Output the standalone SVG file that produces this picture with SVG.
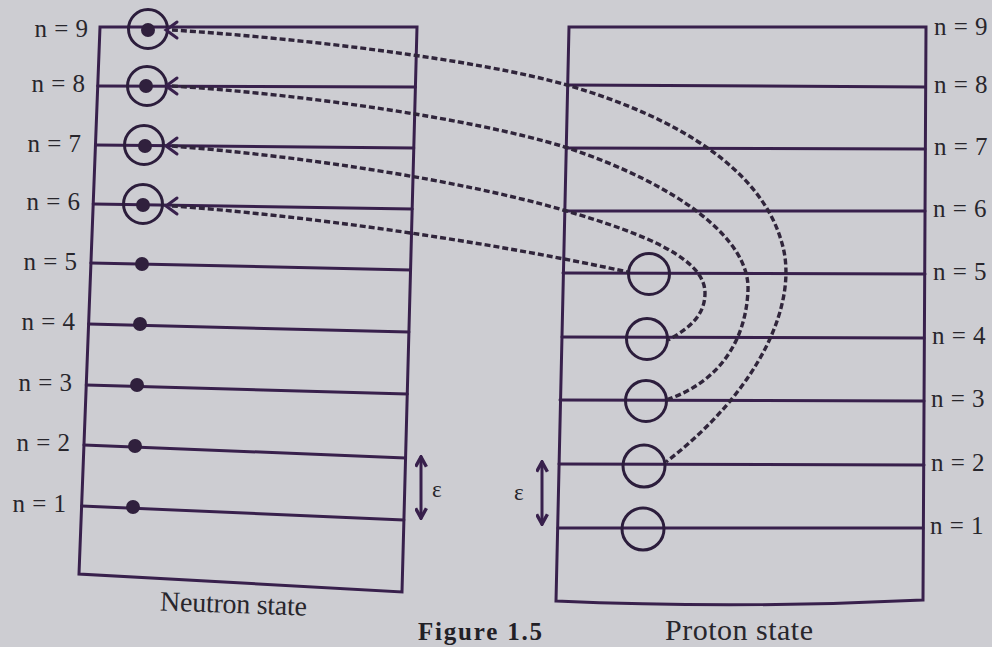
<svg xmlns="http://www.w3.org/2000/svg" width="992" height="647" viewBox="0 0 992 647">
<style>
.ln{fill:none;stroke:#38204c;stroke-width:3;stroke-linecap:round}
.dash{fill:none;stroke:#30253b;stroke-width:3.4;stroke-dasharray:6 3}
.dot{fill:#30203d}
.ring{fill:none;stroke:#2c1d3c;stroke-width:3}
.lbl{font-family:"Liberation Serif",serif;font-size:25px;fill:#28262c;word-spacing:1px}
.cap{font-family:"Liberation Serif",serif;font-size:28px;fill:#28262c}
.eps{font-family:"Liberation Serif",serif;font-size:23px;fill:#28262c}
</style>
<defs>
<marker id="ah" viewBox="0 0 12 12" refX="10" refY="6" markerWidth="13" markerHeight="13" markerUnits="userSpaceOnUse" orient="auto-start-reverse">
<path d="M1,1 L10,6 L1,11" fill="none" stroke="#38204c" stroke-width="3.2"/>
</marker>
</defs>
<rect width="992" height="647" fill="#cdcdd2"/>

<g id="neutron-box">
<path class="ln" d="M100,27 L417,27 L402,592 L79,574 Z"/>
<path class="ln" d="M97.7,86 L415.4,87 M95.5,145 L413.8,148 M93.2,204 L412.2,209 M90.9,263 L410.5,270 M88.6,324 L408.9,332 M86.2,385 L407.3,394 M84,445 L405.6,458 M81.6,506 L403.9,520"/>
<circle class="dot" cx="148" cy="30" r="7"/>
<circle class="dot" cx="146" cy="86" r="7"/>
<circle class="dot" cx="145" cy="146" r="7"/>
<circle class="dot" cx="143" cy="205" r="7"/>
<circle class="dot" cx="142" cy="264" r="7"/>
<circle class="dot" cx="140" cy="324" r="7"/>
<circle class="dot" cx="137" cy="385" r="7"/>
<circle class="dot" cx="135" cy="446" r="7"/>
<circle class="dot" cx="133" cy="507" r="7"/>
<circle class="ring" cx="148" cy="29" r="19.5"/>
<circle class="ring" cx="147" cy="86" r="19.5"/>
<circle class="ring" cx="144" cy="145" r="19.5"/>
<circle class="ring" cx="143" cy="204" r="19.5"/>
<text class="lbl" x="88" y="37" text-anchor="end">n = 9</text>
<text class="lbl" x="85" y="92" text-anchor="end">n = 8</text>
<text class="lbl" x="81" y="152" text-anchor="end">n = 7</text>
<text class="lbl" x="80" y="210" text-anchor="end">n = 6</text>
<text class="lbl" x="77" y="270" text-anchor="end">n = 5</text>
<text class="lbl" x="75" y="330" text-anchor="end">n = 4</text>
<text class="lbl" x="72" y="391" text-anchor="end">n = 3</text>
<text class="lbl" x="70" y="451" text-anchor="end">n = 2</text>
<text class="lbl" x="66" y="512" text-anchor="end">n = 1</text>
<line class="ln" x1="421" y1="457" x2="421" y2="518" marker-start="url(#ah)" marker-end="url(#ah)"/>
<text class="eps" x="432" y="497">ε</text>
<text class="cap" x="160" y="613" textLength="147" transform="rotate(2 233 605)">Neutron state</text>
</g>

<g id="proton-box">
<path class="ln" d="M569,27 L926,27 L923,600 Q740,609 556,601 Z"/>
<path class="ln" d="M568,85 L925,87 M566,148 L925,149 M565,211 L925,211 M563,273 L925,274 M562,337 L924,338 M560,400 L924,401 M559,464 L924,465 M558,528 L923,528"/>
<circle class="ring" cx="649" cy="274" r="20.5"/>
<circle class="ring" cx="647" cy="339" r="20.5"/>
<circle class="ring" cx="646" cy="401" r="20.5"/>
<circle class="ring" cx="644" cy="466" r="21"/>
<circle class="ring" cx="643" cy="529" r="21"/>
<text class="lbl" x="934" y="35">n = 9</text>
<text class="lbl" x="934" y="93">n = 8</text>
<text class="lbl" x="934" y="155">n = 7</text>
<text class="lbl" x="933" y="217">n = 6</text>
<text class="lbl" x="933" y="280">n = 5</text>
<text class="lbl" x="932" y="344">n = 4</text>
<text class="lbl" x="931" y="407">n = 3</text>
<text class="lbl" x="931" y="471">n = 2</text>
<text class="lbl" x="930" y="534">n = 1</text>
<line class="ln" x1="542" y1="462" x2="542" y2="524" marker-start="url(#ah)" marker-end="url(#ah)"/>
<text class="eps" x="514" y="500">ε</text>
<text class="cap" x="665" y="640" textLength="148" style="font-size:30px">Proton state</text>
</g>

<g id="connectors">
<path class="dash" d="M172,30 C300,38 480,60 567,85 C680,118 760,170 781,240 C801,300 760,390 666,462"/>
<path class="dash" d="M172,86 C300,94 470,118 565,147 C680,185 750,240 748,290 C746,340 720,382 666,400"/>
<path class="dash" d="M172,146 C300,156 460,180 563,210 C650,235 705,260 705,293 C705,315 690,328 668,340"/>
<path class="dash" d="M172,206 C300,215 480,240 628,272"/>
<path class="ln" d="M177,22 L166,30 L177,38 M177,78 L166,86 L177,94 M177,138 L166,146 L177,154 M177,198 L166,206 L177,214"/>
</g>

<text x="418" y="640" textLength="124" style="font-family:'Liberation Serif',serif;font-size:25px;font-weight:bold;fill:#222026">Figure 1.5</text>
</svg>
